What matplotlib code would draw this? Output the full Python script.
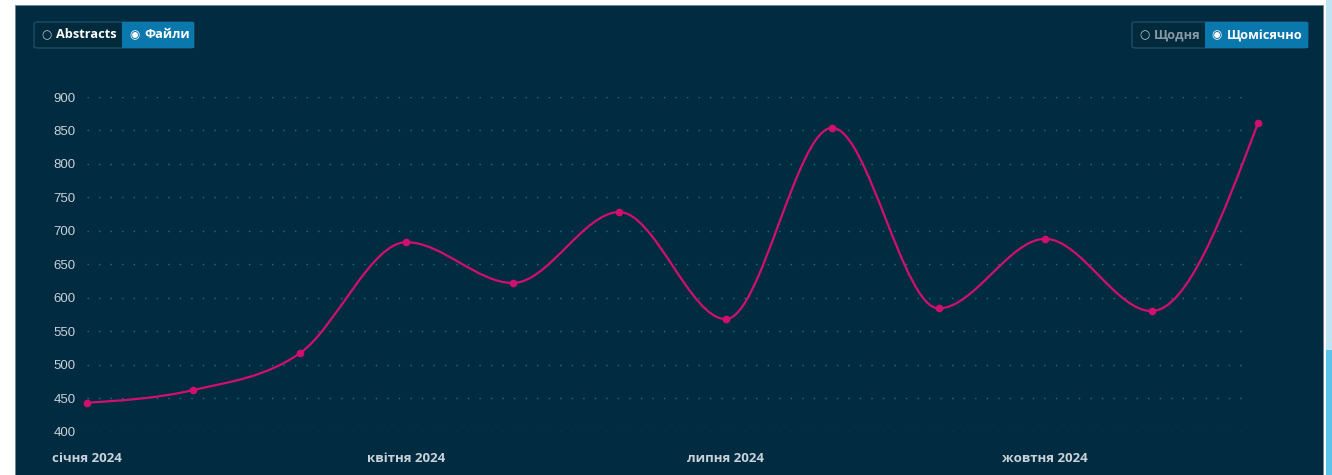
import numpy as np
import matplotlib
matplotlib.use("Agg")
from matplotlib import pyplot as plt
from matplotlib.path import Path
from matplotlib.patches import PathPatch, Rectangle, FancyBboxPatch

# monthly values, Jan..Dec 2024
months = ["січня 2024", "лютого 2024", "березня 2024", "квітня 2024", "травня 2024", "червня 2024",
          "липня 2024", "серпня 2024", "вересня 2024", "жовтня 2024", "листопада 2024", "грудня 2024"]
values = [443, 462, 517, 683, 622, 728, 568, 854, 584, 688, 580, 861]
yticks = [400, 450, 500, 550, 600, 650, 700, 750, 800, 850, 900]
xtick_idx = [0, 3, 6, 9]

BG = "#012b40"
LINE = "#d1106e"
DOTS = "#1f6f9a"
TXT = "#c9d2da"
BLUE = "#0b78ad"

W, H = 1332, 475
fig = plt.figure(figsize=(W / 100, H / 100), dpi=100)
fig.patch.set_facecolor("white")

def fx(px):
    return px / W

def fy(py):
    return 1 - py / H

# dark panel + right edge strip
fig.patches.append(Rectangle((fx(15), 0), fx(1323 - 15), fy(5), transform=fig.transFigure,
                             facecolor=BG, edgecolor="#6c8594", linewidth=0.6, zorder=-2))
fig.patches.append(Rectangle((fx(1326), 0), fx(6), 1, transform=fig.transFigure,
                             facecolor="#bfe5f5", edgecolor="none", zorder=-2))
fig.patches.append(Rectangle((fx(1326), 0), fx(6), fy(350), transform=fig.transFigure,
                             facecolor="#5ec3ea", edgecolor="none", zorder=-2))

ax = fig.add_axes([fx(87), fy(431.5), fx(1258 - 87), fy(97) - fy(431.5)])
ax.set_zorder(5)
ax.set_facecolor("none")
ax.set_xlim(0, 11)
ax.set_ylim(400, 900)
for s in ax.spines.values():
    s.set_visible(False)

ax.hlines(yticks, 0, 10.93, colors=DOTS, linewidth=1.0, linestyles=(0, (1, 7.3)))

# smooth line (monotone cubic bezier through the points)
x = np.arange(len(values), dtype=float)
y = np.array(values, dtype=float)
n = len(x)
t = np.zeros(n)
for i in range(1, n - 1):
    h0 = x[i] - x[i - 1]
    h1 = x[i + 1] - x[i]
    s0 = (y[i] - y[i - 1]) / h0
    s1 = (y[i + 1] - y[i]) / h1
    p = (s0 * h1 + s1 * h0) / (h0 + h1)
    t[i] = (np.sign(s0) + np.sign(s1)) * min(abs(s0), abs(s1), 0.5 * abs(p))
t[0] = (3 * (y[1] - y[0]) - t[1]) / 2
t[-1] = (3 * (y[-1] - y[-2]) - t[-2]) / 2

verts = [(x[0], y[0])]
codes = [Path.MOVETO]
for i in range(n - 1):
    dx = (x[i + 1] - x[i]) / 3
    verts += [(x[i] + dx, y[i] + dx * t[i]), (x[i + 1] - dx, y[i + 1] - dx * t[i + 1]), (x[i + 1], y[i + 1])]
    codes += [Path.CURVE4] * 3
ax.add_patch(PathPatch(Path(verts, codes), facecolor="none", edgecolor=LINE, linewidth=1.6, zorder=3))
ax.plot(x, y, "o", color=LINE, markersize=4.5, zorder=4, clip_on=False)

ax.set_yticks(yticks)
ax.set_yticklabels([str(v) for v in yticks], color=TXT, fontsize=9.5, family="Liberation Sans")
ax.set_xticks(xtick_idx)
ax.set_xticklabels([months[i] for i in xtick_idx], color=TXT, fontsize=9.5,
                   fontweight="bold", family="Open Sans")
ax.tick_params(axis="y", length=0, pad=8)
ax.tick_params(axis="x", length=0, pad=15)

# toggle buttons
def button_group(x0, y0, parts, active):
    xs = x0
    hh = 26
    total = sum(w for _, w in parts)
    fig.patches.append(FancyBboxPatch((fx(x0), fy(y0 + hh)), fx(total), fy(y0) - fy(y0 + hh),
                                      boxstyle="round,pad=0,rounding_size=0.003",
                                      transform=fig.transFigure, facecolor="#022a3d",
                                      edgecolor="#1d4d66", linewidth=1, zorder=1))
    for k, (label, w) in enumerate(parts):
        on = k == active
        if on:
            fig.patches.append(Rectangle((fx(xs), fy(y0 + hh)), fx(w), fy(y0) - fy(y0 + hh),
                                         transform=fig.transFigure, facecolor=BLUE,
                                         edgecolor="none", zorder=2))
        cx, cy = xs + 12, y0 + hh / 2
        fig.text(fx(cx), fy(cy), "◉" if on else "○", ha="center", va="center", fontsize=8.5,
                 color="white" if on else "#c0c8cf", family="DejaVu Sans", zorder=3)
        fig.text(fx(xs + 22), fy(cy), label, ha="left", va="center", fontsize=9.2,
                 fontweight="bold", family="Open Sans", zorder=3,
                 color="white" if (on or label == "Abstracts") else "#8799a5")
        xs += w

button_group(34, 22, [("Abstracts", 88), ("Файли", 72)], 1)
button_group(1132, 22, [("Щодня", 73), ("Щомісячно", 103)], 1)

fig.savefig("out.png", dpi=100, facecolor=fig.get_facecolor())
